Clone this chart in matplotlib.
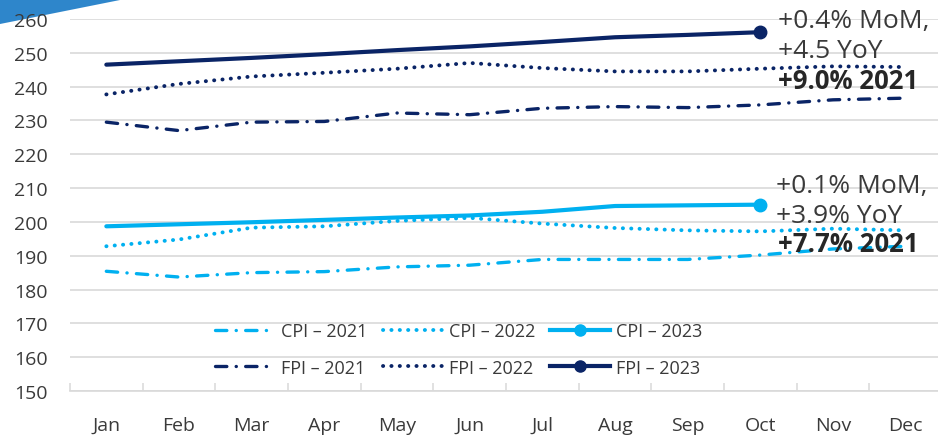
import matplotlib
matplotlib.use("Agg")
import matplotlib.pyplot as plt
from matplotlib.lines import Line2D
from matplotlib.patches import Polygon
from matplotlib.ticker import FixedLocator

plt.rcParams['font.family'] = ['Open Sans', 'DejaVu Sans']

months = ["Jan", "Feb", "Mar", "Apr", "May", "Jun", "Jul", "Aug", "Sep", "Oct", "Nov", "Dec"]
y_ticks = [150, 160, 170, 180, 190, 200, 210, 220, 230, 240, 250, 260]

cpi_2021 = [185.4, 183.7, 185.0, 185.3, 186.7, 187.2, 188.9, 188.9, 188.9, 190.2, 192.0, 192.8]
cpi_2022 = [192.8, 194.8, 198.3, 198.7, 200.3, 201.2, 199.5, 198.2, 197.5, 197.2, 198.0, 197.5]
cpi_2023 = [198.7, 199.3, 199.9, 200.6, 201.3, 201.9, 203.0, 204.7, 204.9, 205.1]
fpi_2021 = [229.5, 227.0, 229.5, 229.7, 232.2, 231.7, 233.6, 234.1, 233.8, 234.6, 236.1, 236.6]
fpi_2022 = [237.7, 240.8, 243.0, 244.1, 245.3, 247.0, 245.5, 244.5, 244.5, 245.3, 246.0, 245.8]
fpi_2023 = [246.5, 247.5, 248.5, 249.6, 250.8, 251.9, 253.2, 254.6, 255.3, 256.1]

fpi_note = "+0.4% MoM,\n+4.5 YoY"
fpi_bold = "+9.0% 2021"
cpi_note = "+0.1% MoM,\n+3.9% YoY"
cpi_bold = "+7.7% 2021"

LIGHT = "#00B0F0"
NAVY = "#0A2466"
TEXT = "#3A3A3A"
GRID = "#D9D9D9"

W, H = 938, 439
fig = plt.figure(figsize=(W / 100, H / 100), dpi=100)
ax = fig.add_axes([70 / W, 1 - 392 / H, 872 / W, 372 / H])
ax.set_facecolor("none")

# decorative corner triangle
tri = Polygon([[0, 1], [125 / W, 1], [0, 1 - 25 / H]], closed=True,
              transform=fig.transFigure, facecolor="#2E86CB", edgecolor="none", zorder=-1)
fig.patches.append(tri)

x12 = list(range(12))
x10 = list(range(10))

dashdot = (0, (3.4, 2.8, 0.05, 2.8))
dotted = (0, (0.05, 2.1))

def draw(xs, ys, color, style, lw, marker=False):
    ax.plot(xs, ys, color=color, linestyle=style, lw=lw,
            dash_capstyle="round", solid_capstyle="round", zorder=2)
    if marker:
        ax.plot([xs[-1]], [ys[-1]], "o", color=color, markersize=9, zorder=3)
    return Line2D([], [], color=color, linestyle=style, lw=lw,
                  dash_capstyle="round", marker="o" if marker else None,
                  markersize=8)

h_c21 = draw(x12, cpi_2021, LIGHT, dashdot, 2.4)
h_c22 = draw(x12, cpi_2022, LIGHT, dotted, 2.8)
h_c23 = draw(x10, cpi_2023, LIGHT, "-", 3.0, marker=True)
h_f21 = draw(x12, fpi_2021, NAVY, dashdot, 2.4)
h_f22 = draw(x12, fpi_2022, NAVY, dotted, 2.8)
h_f23 = draw(x10, fpi_2023, NAVY, "-", 3.0, marker=True)

ax.set_xlim(-0.5, 11.5)
ax.set_ylim(150, 260)
ax.set_yticks(y_ticks)
ax.set_xticks(x12)
ax.set_xticklabels(months)
ax.xaxis.set_minor_locator(FixedLocator([i - 0.5 for i in range(13)]))
ax.tick_params(axis="x", which="major", length=0, pad=18, labelsize=14, labelcolor=TEXT)
ax.tick_params(axis="x", which="minor", direction="in", length=5.5, width=1.1, color=GRID)
ax.tick_params(axis="y", length=0, pad=16, labelsize=14, labelcolor=TEXT)

ax.grid(axis="y", color=GRID, lw=1.2, zorder=0)
ax.set_axisbelow(True)
for s in ["top", "right", "left"]:
    ax.spines[s].set_visible(False)
ax.spines["bottom"].set_color(GRID)
ax.spines["bottom"].set_linewidth(1.2)

# annotations
ax.text(9.24, 263.4, fpi_note, fontsize=19, color=TEXT, va="top", ha="left", zorder=5,
        linespacing=1.3)
ax.text(9.24, 241.7, fpi_bold, fontsize=18.5, color="#262626", fontweight="bold",
        va="center", ha="left", zorder=5)
ax.text(9.22, 214.6, cpi_note, fontsize=19, color=TEXT, va="top", ha="left", zorder=5,
        linespacing=1.3)
ax.text(9.24, 193.7, cpi_bold, fontsize=18.5, color="#262626", fontweight="bold",
        va="center", ha="left", zorder=5)

handles = [h_c21, h_f21, h_c22, h_f22, h_c23, h_f23]
labels = ["CPI – 2021", "FPI – 2021", "CPI – 2022", "FPI – 2022", "CPI – 2023", "FPI – 2023"]
leg = fig.legend(handles, labels, ncol=3, loc="center",
                 bbox_to_anchor=(459 / W, 1 - 350.5 / H), bbox_transform=fig.transFigure,
                 frameon=False, fontsize=13, handlelength=3.3, handletextpad=0.35,
                 columnspacing=0.85, labelspacing=1.0, numpoints=1, borderpad=0.2)
for t in leg.get_texts():
    t.set_color(TEXT)

fig.savefig("out.png", dpi=100)
